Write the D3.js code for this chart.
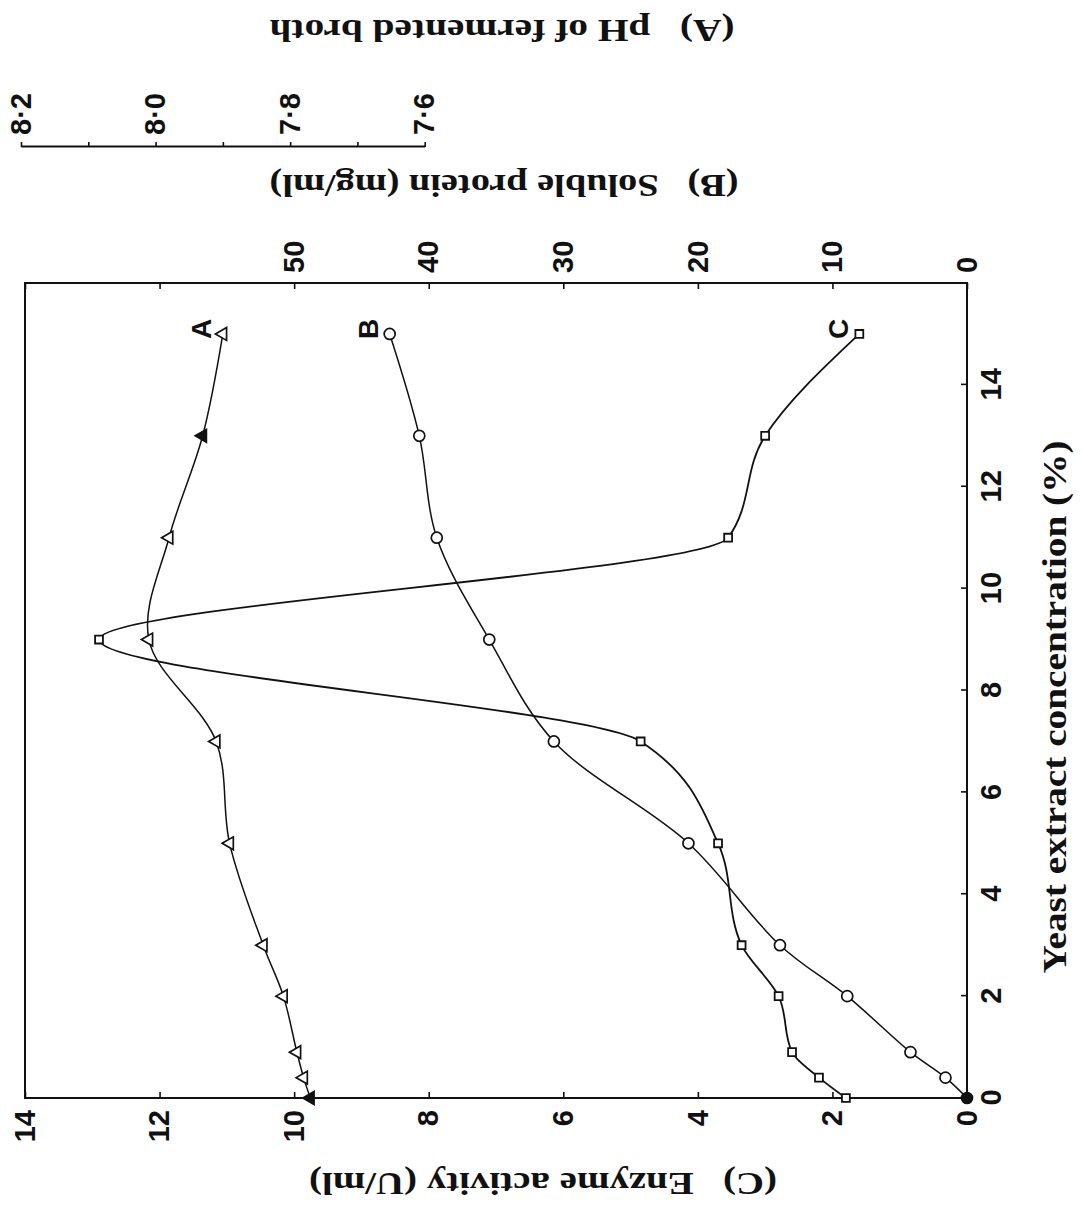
<!DOCTYPE html>
<html>
<head>
<meta charset="utf-8">
<script src="https://cdn.jsdelivr.net/npm/d3@7"></script>
<style>
  html, body { margin: 0; padding: 0; background: #fff; }
  svg { display: block; }
  .tick text { font-family: "Liberation Sans", Arial, sans-serif; font-weight: bold; font-size: 29px; fill: #111; }
  .tick line { stroke: #111; stroke-width: 1.6; }
  .axis-title { font-family: "Liberation Serif", "Times New Roman", serif; font-weight: bold; fill: #111; white-space: pre; }
  .series-label { font-family: "Liberation Sans", Arial, sans-serif; font-weight: bold; font-size: 28px; fill: #111; }
</style>
</head>
<body>
<svg id="chart" width="1082" height="1218"></svg>
<script>
// Yeast extract concentration (%) at which the broth was sampled
const yeast = [0, 0.4, 0.9, 2, 3, 5, 7, 9, 11, 13, 15];
// (A) pH of fermented broth
const phA = [7.77, 7.78, 7.79, 7.81, 7.84, 7.89, 7.91, 8.01, 7.98, 7.93, 7.90];
// (B) soluble protein, mg/ml
const proteinB = [0, 1.6, 4.2, 8.9, 13.9, 20.7, 30.7, 35.5, 39.4, 40.7, 42.9];
// (C) enzyme activity, U/ml
const enzymeC = [1.8, 2.2, 2.6, 2.8, 3.35, 3.7, 4.85, 12.9, 3.55, 3.0, 1.6];

// Tick values
const yeastTicks = [0, 2, 4, 6, 8, 10, 12, 14];
const enzymeTicks = [0, 2, 4, 6, 8, 10, 12, 14];
const proteinTicks = [0, 10, 20, 30, 40, 50, 60, 70];
const proteinLabelled = [0, 10, 20, 30, 40, 50];
const phTicks = [7.6, 7.7, 7.8, 7.9, 8.0, 8.1, 8.2];
const phLabelled = [7.6, 7.8, 8.0, 8.2];

// The figure is laid out with concentration along x and the three
// responses along y, then the whole panel is turned a quarter turn.
const W = 815, H = 942;
const svg = d3.select("#chart");
const g = svg.append("g").attr("transform", "translate(25,1098) rotate(-90)");

const x = d3.scaleLinear().domain([0, 16]).range([0, W]);
const yC = d3.scaleLinear().domain([0, 14]).range([H, 0]);
const yB = d3.scaleLinear().domain([0, 70]).range([H, 0]);
const yA = d3.scaleLinear().domain([6.8, 8.2]).range([H - 4, -4]);
const yAaxis = d3.scaleLinear().domain([7.6, 8.2]).range([yA(7.6), yA(8.2)]);

// Concentration axis
g.append("g")
  .attr("transform", `translate(0,${H})`)
  .call(d3.axisBottom(x).tickValues(yeastTicks).tickSizeInner(-6).tickSizeOuter(0).tickPadding(13))
  .call(a => a.select(".domain").remove());

// Enzyme activity axis
g.append("g")
  .call(d3.axisLeft(yC).tickValues(enzymeTicks).tickSizeInner(-6).tickSizeOuter(0).tickPadding(12))
  .call(a => a.select(".domain").remove());

// Soluble protein axis
g.append("g")
  .attr("transform", `translate(${W},0)`)
  .call(d3.axisRight(yB).tickValues(proteinTicks).tickSizeInner(-6).tickSizeOuter(0).tickPadding(10)
    .tickFormat(d => proteinLabelled.includes(d) ? d : ""))
  .call(a => a.select(".domain").remove());

// pH axis, offset outside the frame
const fmtPh = d => phLabelled.some(v => Math.abs(v - d) < 1e-6) ? d.toFixed(1).replace(".", "\u00B7") : "";
g.append("g")
  .attr("transform", `translate(${W + 136},0)`)
  .call(d3.axisRight(yAaxis).tickValues(phTicks).tickSizeInner(5).tickSizeOuter(0).tickPadding(7).tickFormat(fmtPh))
  .call(a => a.select(".domain").attr("stroke", "#111").attr("stroke-width", 1.8));

// Frame
g.append("rect")
  .attr("width", W).attr("height", H)
  .attr("fill", "none").attr("stroke", "#111").attr("stroke-width", 2);

// Curves: the enzyme peak is drawn with a monotone spline so it stays a clean bell
const series = [
  { key: "A", values: phA, y: yA, curve: d3.curveCatmullRom.alpha(0.5) },
  { key: "B", values: proteinB, y: yB, curve: d3.curveCatmullRom.alpha(0.5) },
  { key: "C", values: enzymeC, y: yC, curve: d3.curveMonotoneX }
];
series.forEach(s => {
  const line = d3.line().x((d, i) => x(yeast[i])).y(d => s.y(d)).curve(s.curve);
  g.append("path")
    .datum(s.values)
    .attr("d", line)
    .attr("fill", "none")
    .attr("stroke", "#111")
    .attr("stroke-width", s.key === "C" ? 1.8 : 1.5);
});

// Markers
const tri = d3.symbol(d3.symbolTriangle, 72);
const sq = d3.symbol(d3.symbolSquare, 62);
g.append("g").selectAll("path")
  .data(phA)
  .join("path")
  .attr("d", tri)
  .attr("transform", (d, i) => `translate(${x(yeast[i])},${yA(d)})`)
  .attr("fill", (d, i) => (yeast[i] === 0 || yeast[i] === 13) ? "#111" : "#fff")
  .attr("stroke", "#111").attr("stroke-width", 1.7);

g.append("g").selectAll("circle")
  .data(proteinB)
  .join("circle")
  .attr("cx", (d, i) => x(yeast[i]))
  .attr("cy", d => yB(d))
  .attr("r", 5.5)
  .attr("fill", (d, i) => i === 0 ? "#111" : "#fff")
  .attr("stroke", "#111").attr("stroke-width", 1.7);

g.append("g").selectAll("path")
  .data(enzymeC)
  .join("path")
  .attr("d", sq)
  .attr("transform", (d, i) => `translate(${x(yeast[i])},${yC(d)})`)
  .attr("fill", "#fff")
  .attr("stroke", "#111").attr("stroke-width", 1.8);

// Series letters beside the last point of each curve
series.forEach(s => {
  const last = s.values.length - 1;
  g.append("text")
    .attr("class", "series-label")
    .attr("x", x(yeast[last]) + 5)
    .attr("y", s.y(s.values[last]) - 21)
    .attr("text-anchor", "middle")
    .attr("dominant-baseline", "central")
    .text(s.key);
});

// Axis titles
g.append("text")
  .attr("class", "axis-title")
  .attr("x", 391).attr("y", H + 87)
  .attr("text-anchor", "middle").attr("dominant-baseline", "central")
  .attr("font-size", 34)
  .attr("textLength", 533).attr("lengthAdjust", "spacingAndGlyphs")
  .text("Yeast extract concentration (%)");

const vTitle = (tx, ty, len, label) => g.append("text")
  .attr("class", "axis-title")
  .attr("transform", `translate(${tx},${ty}) rotate(-90)`)
  .attr("text-anchor", "middle").attr("dominant-baseline", "central")
  .attr("font-size", 31)
  .attr("xml:space", "preserve")
  .attr("textLength", len).attr("lengthAdjust", "spacingAndGlyphs")
  .text(label);

vTitle(-85, 518, 468, "(C)   Enzyme activity (U/ml)");
vTitle(913, 479, 469, "(B)   Soluble protein (mg/ml)");
vTitle(1068, 477, 465, "(A)   pH of fermented broth");
</script>
</body>
</html>
